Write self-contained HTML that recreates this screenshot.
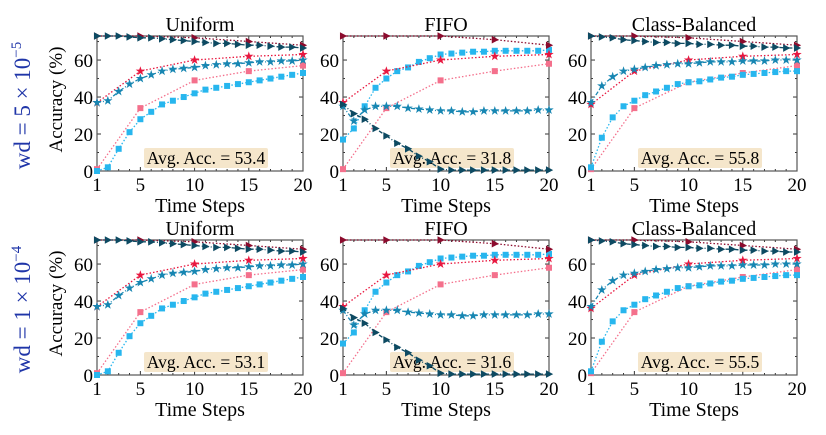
<!DOCTYPE html>
<html><head><meta charset="utf-8">
<style>
body{margin:0;background:#fff;}
svg{display:block;font-family:"Liberation Serif",serif;}
</style></head>
<body>
<svg id="fig" width="826" height="435" viewBox="0 0 826 435" xmlns="http://www.w3.org/2000/svg"></svg>
<script>
// ---- data ----
const steps = [1,2,3,4,5,6,7,8,9,10,11,12,13,14,15,16,17,18,19,20];
const sparseSteps = [1,5,10,15,20];
const panelTitles = ["Uniform","FIFO","Class-Balanced"];
const rowLabels = ["5","1"];
const rowExps = ["\u22125","\u22124"];
const yTicks = [0,20,40,60];
const xTicks = [1,5,10,15,20];
const avgAcc = [["53.4","31.8","55.8"],["53.1","31.6","55.5"]];

// sparse series (markers at 1,5,10,15,20)
const darkRedTri = [[73,73,72,70,68],[73,73,73,71,68],[73,73,72,70,68]];
const redStar    = [[37,54,60,62,63],[37,54,60,62,63],[36,54,60,62,63]];
const pinkSq     = [[1,34,49,54,57],[1,34,49,54,58],[1,34,48,53,57]];
// dense series (every step)
const tealTri = [
 [73,73,73,72.5,72,72,71.5,71,70.5,70,69.5,69,69,68.5,68,68,67.5,67,67,66.5],
 [36,31,28,23,19,15,12,8,5,1,0.5,0.5,0.5,0.5,0.5,0.5,0.5,0.5,0.5,0.5],
 [73,72.5,72,71,70.5,70,69.5,69.5,69,69,68.5,68.5,68,68,67.5,67.5,67,67,66.5,66.5]];
const tealStar = [
 [37,38,43,47,50,52,54,55,55.5,56,57,57.5,58,58,58.5,59,59,59.5,59.5,60],
 [35,27,33,35,35,35,34,33.5,33,32.5,32.5,32,32,32.5,32.5,32.5,32.5,32.5,33,33],
 [37,46,51,54,55,56,57,57.5,58,58,58.5,59,59,59,59.5,59.5,59.5,60,60,60]];
const lightSq = [
 [0,2,12,21,28,32,36,38,40,42,44,45,46,47,48,49,50,51,52,53],
 [17,23,35,45,50,54,56,59,61,63,63.5,64,64.5,64.5,65,65,65,65,65,65.5],
 [2,18,29,35,38,41,43,45,47,48,48.5,49.5,50.5,51,52,52.5,53,53.5,54,54]];

// ---- layout ----
const svg = document.getElementById('fig');
const NS = "http://www.w3.org/2000/svg";
const colX = [97,343,591], W = 206;
const rowY = [36,240], H = 135; // top y; y-range 0..73
const YMAX = 73;
function mk(tag, attrs, parent){const e=document.createElementNS(NS,tag);for(const k in attrs)e.setAttribute(k,attrs[k]);(parent||svg).appendChild(e);return e;}
function sx(c,v){return colX[c]+(v-1)/19*W;}
function sy(r,v){return rowY[r]+H-(v/YMAX)*H;}

function marker(g,type,x,y,color,size){
  let e;
  if(type==='sq'){e=mk('rect',{x:x-size,y:y-size,width:2*size,height:2*size,fill:color},g);}
  else if(type==='tri'){e=mk('polygon',{points:`${x-size*0.8},${y-size} ${x+size*1.1},${y} ${x-size*0.8},${y+size}`,fill:color},g);}
  else {let p=[];for(let i=0;i<10;i++){const a=-Math.PI/2+i*Math.PI/5;const rr=i%2?size*0.45:size*1.15;p.push((x+rr*Math.cos(a)).toFixed(1)+','+(y+rr*Math.sin(a)).toFixed(1));}
    e=mk('polygon',{points:p.join(' '),fill:color},g);}
  return e;
}
function series(r,c,xs,ys,color,type,dash,name,size){
  const g=mk('g',{});
  
  
  const pts=xs.map((x,i)=>sx(c,x).toFixed(1)+','+sy(r,ys[i]).toFixed(1)).join(' ');
  mk('polyline',{points:pts,fill:'none',stroke:color,'stroke-width':1.3,'stroke-dasharray':dash},g);
  xs.forEach((x,i)=>{const m=marker(g,type,sx(c,x),sy(r,ys[i]),color,size);
    
    });
}

for(let r=0;r<2;r++){
  const rl=mk('text',{x:0,y:0,'font-size':23,fill:'#1f35a8','text-anchor':'middle',transform:`translate(30,${rowY[r]+H/2+2}) rotate(-90)`});
  
  
  rl.innerHTML=`wd = ${rowLabels[r]} × 10<tspan dy="-9" font-size="15">${rowExps[r]}</tspan>`;
  const yl=mk('text',{x:0,y:0,'font-size':19,'text-anchor':'middle',transform:`translate(62,${rowY[r]+H/2-4}) rotate(-90)`});
  
  
  yl.textContent='Accuracy (%)';
  for(let c=0;c<3;c++){
    const g=mk('g',{});
    
    
    const t=mk('text',{x:colX[c]+W/2,y:rowY[r]-5,'font-size':20,'text-anchor':'middle'},g);
    
    
    t.textContent=panelTitles[c];
    // ticks
    yTicks.forEach(v=>{const y=sy(r,v);
      mk('line',{x1:colX[c],x2:colX[c]+4,y1:y,y2:y,stroke:'#333'},g);
      mk('line',{x1:colX[c]+W,x2:colX[c]+W-4,y1:y,y2:y,stroke:'#333'},g);
      const tl=mk('text',{x:colX[c]-4,y:y+7,'font-size':19,'text-anchor':'end'},g);
      
      
      tl.textContent=v;});
    for(let v=10;v<YMAX;v+=20){const y=sy(r,v);
      mk('line',{x1:colX[c],x2:colX[c]+2,y1:y,y2:y,stroke:'#333'},g);
      mk('line',{x1:colX[c]+W,x2:colX[c]+W-2,y1:y,y2:y,stroke:'#333'},g);}
    steps.forEach(v=>{const x=sx(c,v);const big=xTicks.includes(v);
      mk('line',{x1:x,x2:x,y1:rowY[r]+H,y2:rowY[r]+H-(big?4:2),stroke:'#333'},g);
      mk('line',{x1:x,x2:x,y1:rowY[r],y2:rowY[r]+(big?4:2),stroke:'#333'},g);});
    xTicks.forEach(v=>{const tl=mk('text',{x:sx(c,v),y:rowY[r]+H+20,'font-size':19,'text-anchor':'middle'},g);
      
      
      tl.textContent=v;});
    const xt=mk('text',{x:colX[c]+W/2,y:rowY[r]+H+41,'font-size':20,'text-anchor':'middle'},g);
    
    
    xt.textContent='Time Steps';
    // series
    series(r,c,sparseSteps,pinkSq[c],'#f4708c','sq','1.5,2','pink-square-series',3);
    series(r,c,steps,lightSq[c],'#27b6ee','sq','1.5,2','lightblue-square-series',3);
    series(r,c,sparseSteps,redStar[c],'#e8173f','star','1.5,2','red-star-series',4.3);
    series(r,c,steps,tealStar[c],'#1786b2','star','4,2,1,2','teal-star-series',4.3);
    series(r,c,sparseSteps,darkRedTri[c],'#8c0b2d','tri','1.5,2','darkred-triangle-series',3.8);
    series(r,c,steps,tealTri[c],'#0d4a62','tri','4,2,1,2','teal-triangle-series',3.8);
    // avg box
    const bx=colX[c]+W/2-56, by=rowY[r]+H-23;
    const box=mk('rect',{x:bx,y:by,width:124,height:20,rx:2,fill:'#f3e2c2','fill-opacity':0.85},g);
    
    
    const at=mk('text',{x:bx+62,y:by+16,'font-size':17.5,'text-anchor':'middle'},g);
    
    
    at.textContent='Avg. Acc. = '+avgAcc[r][c];
    mk('rect',{x:colX[c],y:rowY[r],width:W,height:H,fill:'none',stroke:'#555','stroke-width':1.2},g);
  }
}
</script>
</body></html>
